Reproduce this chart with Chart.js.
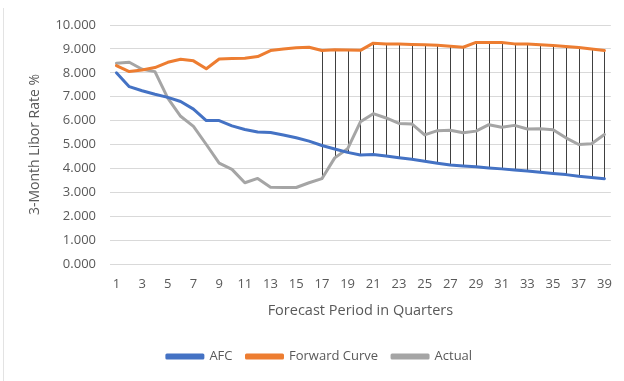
<!DOCTYPE html>
<html>
<head>
<meta charset="utf-8">
<script src="https://cdn.jsdelivr.net/npm/chart.js@4"></script>
<style>
  html, body { margin: 0; padding: 0; background: #fff; }
  #wrap { width: 624px; height: 381px; position: relative; }
</style>
</head>
<body>
<div id="wrap"><canvas id="c" width="624" height="381"></canvas></div>
<script>
// Forecast quarters 1..39
const quarters = ['1','2','3','4','5','6','7','8','9','10','11','12','13','14','15','16','17','18','19','20',
  '21','22','23','24','25','26','27','28','29','30','31','32','33','34','35','36','37','38','39'];

// 3-month Libor rate, %
const afc = [8.00, 7.42, 7.25, 7.10, 6.97, 6.80, 6.48, 6.00, 6.00, 5.78, 5.63, 5.52, 5.50, 5.40, 5.28, 5.14, 4.96, 4.81, 4.67, 4.56,
  4.58, 4.52, 4.45, 4.38, 4.30, 4.22, 4.14, 4.10, 4.07, 4.02, 3.98, 3.93, 3.89, 3.84, 3.79, 3.74, 3.67, 3.62, 3.57];

const forwardCurve = [8.30, 8.05, 8.12, 8.22, 8.44, 8.57, 8.50, 8.17, 8.58, 8.60, 8.61, 8.68, 8.93, 9.00, 9.05, 9.07, 8.93, 8.96, 8.95, 8.94,
  9.24, 9.21, 9.20, 9.18, 9.17, 9.15, 9.11, 9.07, 9.27, 9.27, 9.27, 9.21, 9.20, 9.17, 9.14, 9.10, 9.06, 9.00, 8.93];

const actual = [8.40, 8.44, 8.15, 8.05, 6.94, 6.18, 5.76, 5.00, 4.22, 3.96, 3.40, 3.58, 3.21, 3.20, 3.20, 3.40, 3.57, 4.44, 4.82, 5.95,
  6.29, 6.11, 5.88, 5.86, 5.40, 5.58, 5.60, 5.49, 5.56, 5.83, 5.72, 5.80, 5.65, 5.66, 5.62, 5.28, 5.00, 5.03, 5.42];

// high-low lines are drawn from this quarter onward
const hiLoFromQuarter = '17';

const textColor = '#595959';
const fontFamily = '"Open Sans", Lato, sans-serif';

// vertical lines joining the highest and lowest series value at each quarter
const hiLoLines = {
  id: 'hiLoLines',
  beforeDatasetsDraw(chart) {
    const { ctx } = chart;
    const x = chart.scales.x, y = chart.scales.y;
    const start = quarters.indexOf(hiLoFromQuarter);
    ctx.save();
    ctx.strokeStyle = '#404040';
    ctx.lineWidth = 1;
    ctx.beginPath();
    for (let i = start; i < quarters.length; i++) {
      const vals = [afc[i], forwardCurve[i], actual[i]];
      const px = Math.round(x.getPixelForValue(i)) + 0.5;
      ctx.moveTo(px, y.getPixelForValue(Math.max(...vals)));
      ctx.lineTo(px, y.getPixelForValue(Math.min(...vals)));
    }
    ctx.stroke();
    ctx.restore();
  }
};

// faint frame edge on the left of the chart
const frameEdge = {
  id: 'frameEdge',
  afterDraw(chart) {
    const { ctx } = chart;
    ctx.save();
    ctx.strokeStyle = '#e3e3e3';
    ctx.lineWidth = 1;
    ctx.beginPath();
    ctx.moveTo(3.5, 8);
    ctx.lineTo(3.5, 381);
    ctx.stroke();
    ctx.restore();
  }
};

const lineDs = (label, data, color) => ({
  label, data,
  borderColor: color,
  backgroundColor: color,
  borderWidth: 3,
  pointRadius: 0,
  pointHoverRadius: 0,
  tension: 0,
  borderJoinStyle: 'round',
  borderCapStyle: 'round'
});

new Chart(document.getElementById('c'), {
  type: 'line',
  data: {
    labels: quarters,
    datasets: [
      lineDs('AFC', afc, '#4472C4'),
      lineDs('Forward Curve', forwardCurve, '#ED7D31'),
      lineDs('Actual', actual, '#A5A5A5')
    ]
  },
  options: {
    responsive: false,
    animation: false,
    devicePixelRatio: 1,
    layout: { padding: { left: 27, right: 12, top: 25, bottom: 8 } },
    plugins: {
      legend: {
        position: 'bottom',
        labels: {
          boxWidth: 36,
          boxHeight: 3,
          padding: 14,
          color: textColor,
          font: { family: fontFamily, size: 13 }
        }
      },
      tooltip: { enabled: false }
    },
    scales: {
      x: {
        offset: true,
        grid: { display: false, drawTicks: false },
        border: { display: true, color: '#d9d9d9', width: 1 },
        ticks: {
          autoSkip: false,
          maxRotation: 0,
          padding: 12,
          color: textColor,
          font: { family: fontFamily, size: 13 },
          callback: (v, i) => (i % 2 === 0 ? quarters[i] : '')
        },
        title: {
          display: true,
          text: 'Forecast Period in Quarters',
          color: textColor,
          font: { family: fontFamily, size: 14.5 },
          padding: { top: 6, bottom: 16 }
        },
        afterFit: (s) => { s.height = 72; }
      },
      y: {
        min: 0,
        max: 10,
        grid: { color: '#d9d9d9', lineWidth: 1, drawTicks: false },
        border: { display: false },
        ticks: {
          stepSize: 1,
          padding: 14,
          color: textColor,
          font: { family: fontFamily, size: 13 },
          callback: (v) => Number(v).toFixed(3)
        },
        title: {
          display: true,
          text: '3-Month Libor Rate %',
          color: textColor,
          font: { family: fontFamily, size: 14 },
          padding: { top: 0, bottom: 0 }
        },
        afterFit: (s) => { s.width = 83; }
      }
    }
  },
  plugins: [hiLoLines, frameEdge]
});
</script>
</body>
</html>
